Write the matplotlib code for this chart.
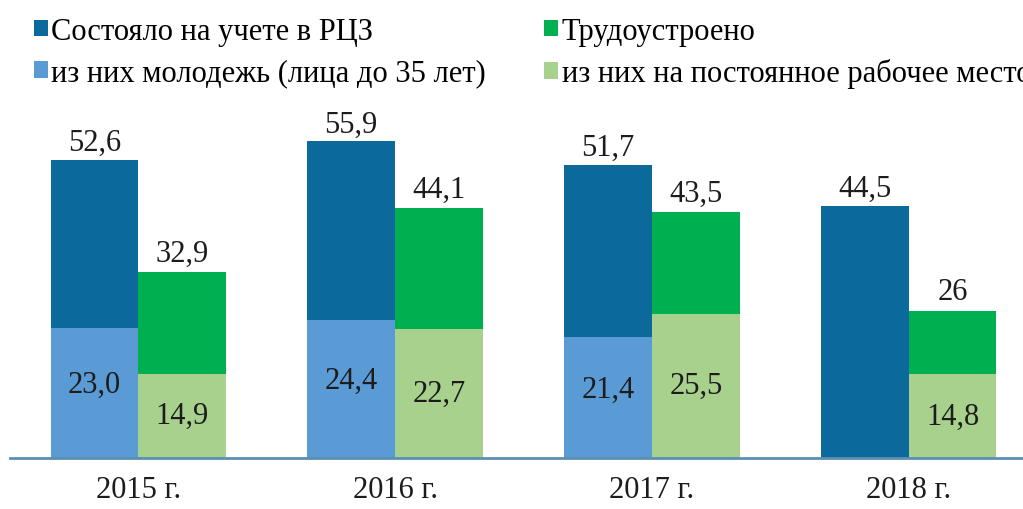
import matplotlib.pyplot as plt
import numpy as np

years = ["2015 г.", "2016 г.", "2017 г.", "2018 г."]
registered = [52.6, 55.9, 51.7, 44.5]
youth = [23.0, 24.4, 21.4, None]
employed = [32.9, 44.1, 43.5, 26.0]
permanent = [14.9, 22.7, 25.5, 14.8]

registered_lbl = ["52,6", "55,9", "51,7", "44,5"]
youth_lbl = ["23,0", "24,4", "21,4", None]
employed_lbl = ["32,9", "44,1", "43,5", "26"]
permanent_lbl = ["14,9", "22,7", "25,5", "14,8"]

legend_names = ["Состояло на учете в РЦЗ", "из них молодежь (лица до 35 лет)",
                "Трудоустроено", "из них на постоянное рабочее место"]

C_DARK = "#0b6a9b"
C_LIGHT = "#5b9bd5"
C_GREEN = "#00b050"
C_LGREEN = "#a9d18e"
C_TEXT = "#1c1c1c"

plt.rcParams["font.family"] = ["Liberation Serif", "DejaVu Serif"]

W, H = 1023, 510
fig = plt.figure(figsize=(W / 100, H / 100), dpi=100)
# axes wider than the figure on the right: the original image is cropped
ax = fig.add_axes([10 / W, 51 / H, 1027 / W, 340 / H])

x = np.arange(len(years))
bw = 0.342
xl = x - bw / 2
xr = x + bw / 2

b1 = ax.bar(xl, registered, bw, color=C_DARK, linewidth=0)
yv = [v if v is not None else 0 for v in youth]
b2 = ax.bar(xl, yv, bw, color=C_LIGHT, linewidth=0)
b3 = ax.bar(xr, employed, bw, color=C_GREEN, linewidth=0)
b4 = ax.bar(xr, permanent, bw, color=C_LGREEN, linewidth=0)

fs = 22
for i in range(len(years)):
    ax.annotate(registered_lbl[i], (xl[i], registered[i]), xytext=(0, 2),
                textcoords="offset points", ha="center", va="bottom",
                fontsize=fs, color=C_TEXT)
    ax.annotate(employed_lbl[i], (xr[i], employed[i]), xytext=(0, 3),
                textcoords="offset points", ha="center", va="bottom",
                fontsize=fs, color=C_TEXT)
    if youth[i] is not None:
        ax.text(xl[i], youth[i] / 2 + 1.5, youth_lbl[i], ha="center", va="center",
                fontsize=fs, color=C_TEXT)
    ax.text(xr[i], permanent[i] / 2, permanent_lbl[i], ha="center", va="center",
            fontsize=fs, color=C_TEXT)

ax.set_xlim(-0.5, 3.5)
ax.set_ylim(0, 60)
ax.set_xticks(x)
ax.set_xticklabels(years, fontsize=fs, color=C_TEXT)
ax.tick_params(axis="x", length=0, pad=12)
ax.set_yticks([])
for s in ["top", "left", "right"]:
    ax.spines[s].set_visible(False)
ax.spines["bottom"].set_color("#5b8fb3")
ax.spines["bottom"].set_linewidth(2)

# the reference image is cropped on the right, so the last legend entry runs off the edge
fig.legend([b1, b2, b3, b4], legend_names, ncol=2, loc="upper left",
           bbox_to_anchor=(34 / W, 1 - 18 / H), frameon=False, fontsize=fs,
           handlelength=0.45, handleheight=0.45, handletextpad=0.12,
           columnspacing=1.9, labelspacing=0.4, borderaxespad=0, borderpad=0)

fig.savefig("out.png", dpi=100)
